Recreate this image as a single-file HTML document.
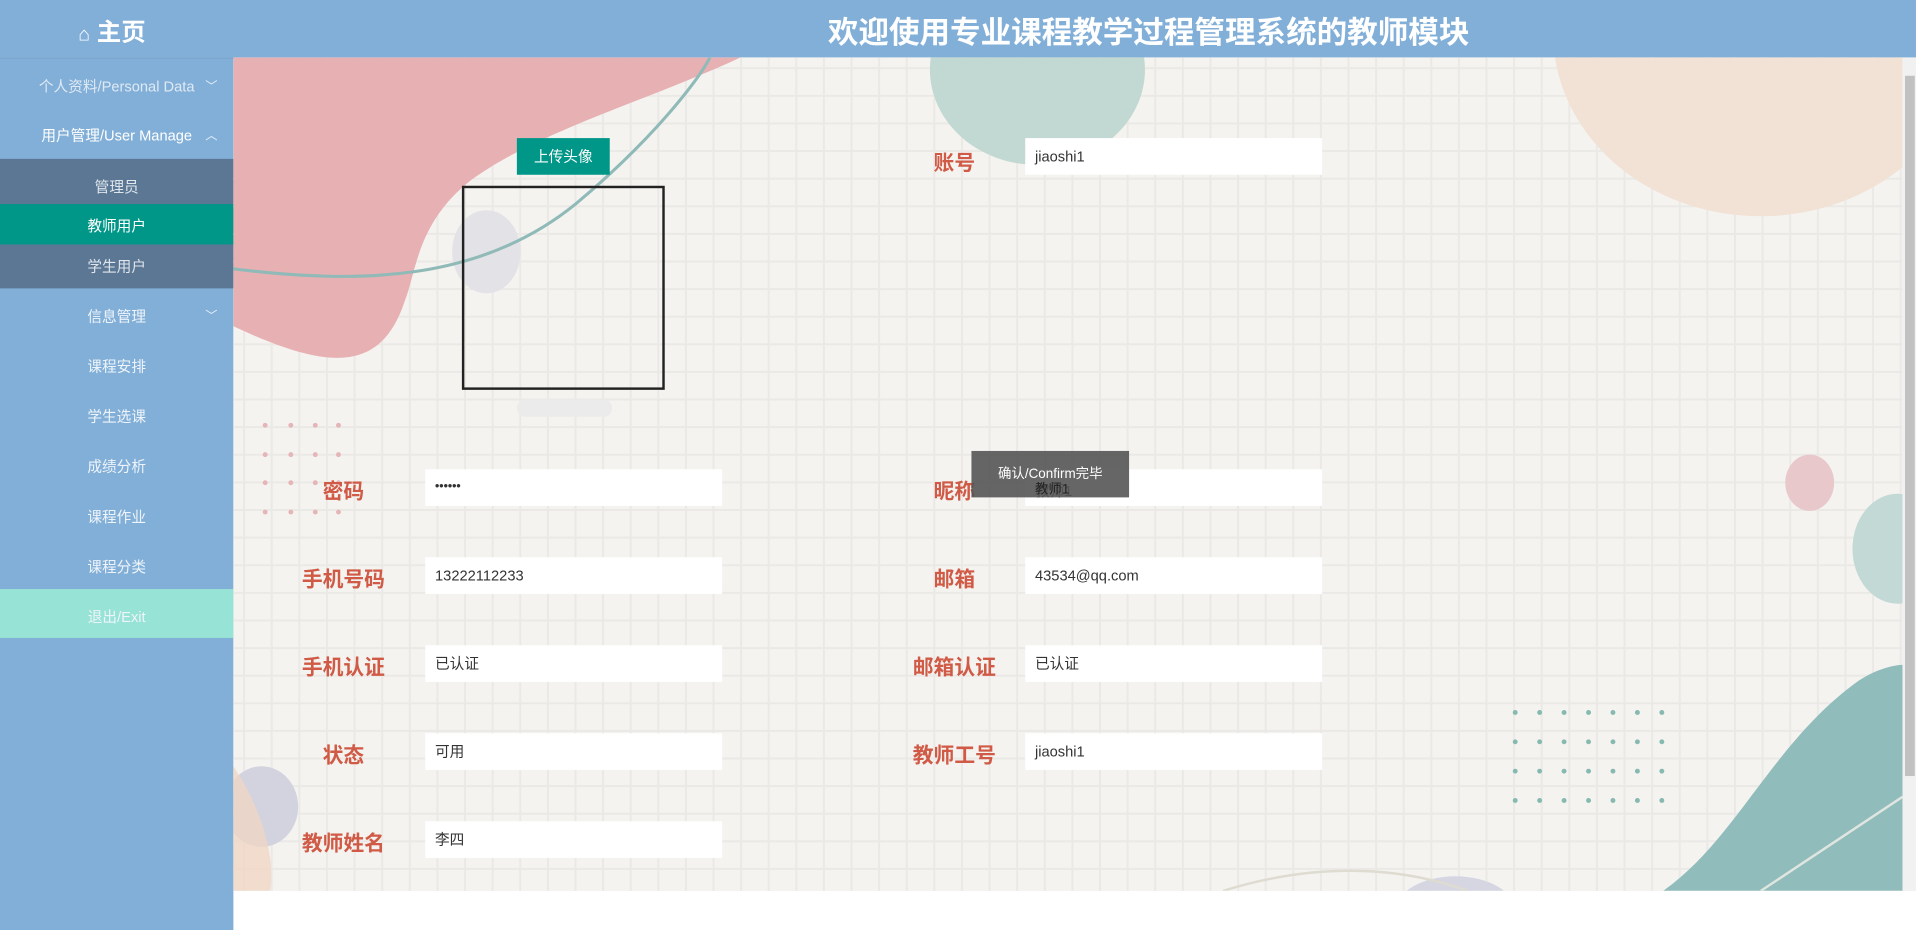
<!DOCTYPE html>
<html><head><meta charset="utf-8"><style>
*{margin:0;padding:0;box-sizing:border-box}
body{width:1916px;height:930px;overflow:hidden;background:#fff;font-family:"Liberation Sans","Noto Sans CJK SC",sans-serif}
#w{position:absolute;left:0;top:0;width:1568px;height:761px;transform:scale(1.22194,1.2221);transform-origin:0 0}
.hd{position:absolute;left:0;top:0;width:1568px;height:47px;background:#82afd8}
.sb{position:absolute;left:0;top:47px;width:191px;height:714px;background:#82afd8;border-top:1px solid #7aa3cc}
.it{position:absolute;left:0;width:191px;text-align:center;font-size:12px;color:#eef4fa}
.ch{position:absolute;left:168px;font-size:10px;color:#e8f0f8}
.main{position:absolute;left:191px;top:47px;width:1366px;height:682px;overflow:hidden;background-color:#f4f3f0;
background-image:linear-gradient(90deg,#ebe9e6 1.5px,transparent 1.5px),linear-gradient(#ebe9e6 1.5px,transparent 1.5px);background-size:22.6px 22.6px;background-position:8px 8px}
.lb{position:absolute;width:120px;text-align:center;font-size:17px;font-weight:bold;color:#d05a45}
.in{position:absolute;width:243px;height:30px;background:#fff;font-size:12px;color:#333;padding-left:8px;line-height:30px}
</style></head><body><div id="w">
<div class="hd"></div>
<div style="position:absolute;left:64px;top:10px;color:#fff;font-size:20px;font-weight:bold"><span style="font-size:16px;font-weight:normal">⌂</span> 主页</div>
<div style="position:absolute;left:191px;width:1498px;top:7px;text-align:center;color:#fff;font-size:25px;font-weight:bold">欢迎使用专业课程教学过程管理系统的教师模块</div>
<div class="sb">
<div class="it" style="top:14px;color:#dfe9f4">个人资料/Personal Data</div><div class="ch" style="top:14px">﹀</div>
<div class="it" style="top:54px;color:#fff">用户管理/User Manage</div><div class="ch" style="top:54px">︿</div>
<div style="position:absolute;top:82px;left:0;width:191px;height:106px;background:#5b7793"></div>
<div class="it" style="top:96px;color:#dfe6ee">管理员</div>
<div style="position:absolute;top:119px;left:0;width:191px;height:33px;background:#009688"></div>
<div class="it" style="top:128px;color:#fff">教师用户</div>
<div class="it" style="top:161px;color:#dfe6ee">学生用户</div>
<div class="it" style="top:202px">信息管理</div><div class="ch" style="top:202px">﹀</div>
<div class="it" style="top:243px">课程安排</div>
<div class="it" style="top:284px">学生选课</div>
<div class="it" style="top:325px">成绩分析</div>
<div class="it" style="top:366px">课程作业</div>
<div class="it" style="top:407px">课程分类</div>
<div style="position:absolute;top:434px;left:0;width:191px;height:40px;background:#97e3d5"></div>
<div class="it" style="top:448px">退出/Exit</div>
</div>
<div class="main">
<svg width="1366" height="682" style="position:absolute;left:0;top:0">
<path d="M0,0 L415,0 C340,35 250,60 195,100 C150,135 150,175 140,200 C120,260 75,255 0,220 Z" fill="#e7b0b3"/>
<ellipse cx="658" cy="10" rx="88" ry="78" fill="#c2d8d3"/>
<ellipse cx="1250" cy="-20" rx="170" ry="150" fill="#f2e2d6"/>
<ellipse cx="207" cy="159" rx="28" ry="34" fill="#e3e2e7"/>
<path d="M0,173 C100,185 200,185 280,120 C340,70 380,20 390,0" stroke="#8fbab8" stroke-width="2.5" fill="none"/>
<rect x="232" y="280" width="78" height="14" rx="7" fill="#ebebeb"/>
<ellipse cx="1290" cy="348" rx="20" ry="23" fill="#e8c8cb"/>
<ellipse cx="1362" cy="402" rx="37" ry="45" fill="#c2d9d6"/>
<path d="M1170,682 C1230,640 1260,560 1330,510 C1345,500 1360,497 1366,497 L1366,682 Z" fill="#91bcbc"/>
<path d="M1250,682 L1366,605" stroke="#dfe5df" stroke-width="2"/>
<ellipse cx="23" cy="613" rx="30" ry="33" fill="#d3d3df"/>
<path d="M0,580 C20,610 35,650 30,682 L0,682Z" fill="#f0d6c5" opacity=".8"/>
<ellipse cx="1000" cy="700" rx="50" ry="30" fill="#d6d6e3"/>
<path d="M810,682 C880,660 950,660 1010,682" stroke="#dedbd0" stroke-width="2" fill="none"/>
<g fill="#e5b5b7"><circle cx="26" cy="301" r="2"/><circle cx="47" cy="301" r="2"/><circle cx="67" cy="301" r="2"/><circle cx="86" cy="301" r="2"/>
<circle cx="26" cy="325" r="2"/><circle cx="47" cy="325" r="2"/><circle cx="67" cy="325" r="2"/><circle cx="86" cy="325" r="2"/>
<circle cx="26" cy="348" r="2"/><circle cx="47" cy="348" r="2"/><circle cx="67" cy="348" r="2"/><circle cx="86" cy="348" r="2"/>
<circle cx="26" cy="372" r="2"/><circle cx="47" cy="372" r="2"/><circle cx="67" cy="372" r="2"/><circle cx="86" cy="372" r="2"/></g>
<g fill="#86b9b0">
<circle cx="1049" cy="536" r="2"/><circle cx="1069" cy="536" r="2"/><circle cx="1089" cy="536" r="2"/><circle cx="1109" cy="536" r="2"/><circle cx="1129" cy="536" r="2"/><circle cx="1149" cy="536" r="2"/><circle cx="1169" cy="536" r="2"/>
<circle cx="1049" cy="560" r="2"/><circle cx="1069" cy="560" r="2"/><circle cx="1089" cy="560" r="2"/><circle cx="1109" cy="560" r="2"/><circle cx="1129" cy="560" r="2"/><circle cx="1149" cy="560" r="2"/><circle cx="1169" cy="560" r="2"/>
<circle cx="1049" cy="584" r="2"/><circle cx="1069" cy="584" r="2"/><circle cx="1089" cy="584" r="2"/><circle cx="1109" cy="584" r="2"/><circle cx="1129" cy="584" r="2"/><circle cx="1149" cy="584" r="2"/><circle cx="1169" cy="584" r="2"/>
<circle cx="1049" cy="608" r="2"/><circle cx="1069" cy="608" r="2"/><circle cx="1089" cy="608" r="2"/><circle cx="1109" cy="608" r="2"/><circle cx="1129" cy="608" r="2"/><circle cx="1149" cy="608" r="2"/><circle cx="1169" cy="608" r="2"/></g>
<rect x="188" y="106" width="164" height="165" fill="none" stroke="#222" stroke-width="2"/>
</svg>
<div style="position:absolute;left:232px;top:66px;width:76px;height:30px;background:#009688;color:#fff;font-size:12px;text-align:center;line-height:30px">上传头像</div>
<div class="lb" style="left:530px;top:72px">账号</div><div class="in" style="left:648px;top:66px">jiaoshi1</div>
<div class="lb" style="left:30px;top:341px">密码</div><div class="in" style="left:157px;top:337px;font-size:10px;font-weight:bold">••••••</div>
<div class="lb" style="left:530px;top:341px">昵称</div><div class="in" style="left:648px;top:337px;padding-top:3px">教师1</div>
<div class="lb" style="left:30px;top:413px">手机号码</div><div class="in" style="left:157px;top:409px">13222112233</div>
<div class="lb" style="left:530px;top:413px">邮箱</div><div class="in" style="left:648px;top:409px">43534@qq.com</div>
<div class="lb" style="left:30px;top:485px">手机认证</div><div class="in" style="left:157px;top:481px">已认证</div>
<div class="lb" style="left:530px;top:485px">邮箱认证</div><div class="in" style="left:648px;top:481px">已认证</div>
<div class="lb" style="left:30px;top:557px">状态</div><div class="in" style="left:157px;top:553px">可用</div>
<div class="lb" style="left:530px;top:557px">教师工号</div><div class="in" style="left:648px;top:553px">jiaoshi1</div>
<div class="lb" style="left:30px;top:629px">教师姓名</div><div class="in" style="left:157px;top:625px">李四</div>
<div style="position:absolute;left:604px;top:322px;width:129px;height:38px;background:rgba(85,85,85,.9);color:#fff;font-size:11px;text-align:center;line-height:38px">确认/Confirm完毕</div>
<div style="position:absolute;left:656px;top:345px;font-size:11px;color:#222">教师1</div>
</div>
<div style="position:absolute;left:1557px;top:47px;width:11px;height:682px;background:#f1f1f1"></div>
<div style="position:absolute;left:1559px;top:62px;width:8px;height:573px;background:#c1c1c1"></div>
</div></body></html>
